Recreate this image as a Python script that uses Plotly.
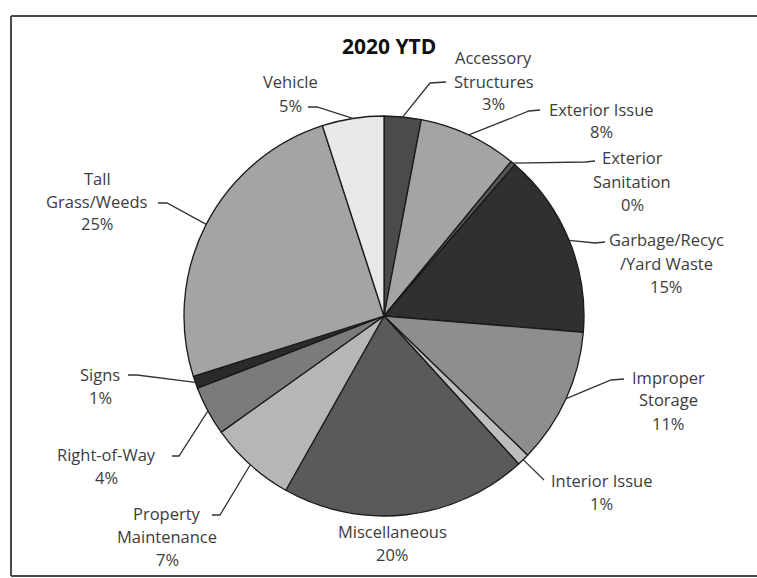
import numpy as np
import plotly.graph_objects as go

# ---------------- data ----------------
categories = ["Accessory Structures", "Exterior Issue", "Exterior Sanitation",
              "Garbage/Recyc /Yard Waste", "Improper Storage", "Interior Issue",
              "Miscellaneous", "Property Maintenance", "Right-of-Way", "Signs",
              "Tall Grass/Weeds", "Vehicle"]
label_lines = [["Accessory", "Structures"], ["Exterior Issue"], ["Exterior", "Sanitation"],
               ["Garbage/Recyc", "/Yard Waste"], ["Improper", "Storage"], ["Interior Issue"],
               ["Miscellaneous"], ["Property", "Maintenance"], ["Right-of-Way"], ["Signs"],
               ["Tall", "Grass/Weeds"], ["Vehicle"]]
values = [3, 8, 0.4, 15, 11, 1, 20, 7, 4, 1, 25, 5]
title_text = "2020 YTD"

# ---------------- styles / layout ----------------
colors = ["#4b4b4b", "#a4a4a4", "#555555", "#303030", "#8e8e8e", "#bdbdbd",
          "#5a5a5a", "#b6b6b6", "#7b7b7b", "#2a2a2a", "#a4a4a4", "#e8e8e8"]
W, H = 757, 578
CX, CY, R = 384, 316, 200
# first-line centre of each label (pixels)
label_pos = [(494, 58), (601, 109), (632, 158), (666, 240), (668, 377), (601, 480),
             (392, 531), (167, 513), (106, 454), (100, 374), (97, 178), (290, 82)]
# leader line: (elbow, end) in pixels; None = no leader
leaders = [((430, 83), (446, 82)), ((529, 111), (540, 110)), ((585, 162), (595, 161)),
           ((595, 243), (605, 242)), ((611, 380), (624, 379)), ((544, 480), (544, 480)),
           None, ((220, 515), (212, 515)), ((179, 456), (172, 456)), ((137, 375), (128, 375)),
           ((167, 203), (158, 203)), ((317, 107), (308, 107))]
LINE_H = 23
FONT = "Open Sans"
TXT = "#3c3c3c"


def px(x):
    return x / W


def py(y):
    return 1 - y / H


fig = go.Figure(go.Pie(
    labels=categories, values=values, sort=False, direction="clockwise", rotation=0,
    marker=dict(colors=colors, line=dict(color="#1a1a1a", width=1.3)),
    textinfo="none", hoverinfo="label+percent", showlegend=False,
    domain=dict(x=[px(CX - R), px(CX + R)], y=[py(CY + R), py(CY - R)]),
))

vals = np.array(values, dtype=float)
pct = vals / vals.sum() * 100
cum = np.cumsum(vals) - vals / 2
mid = cum / vals.sum() * 2 * np.pi

annotations = [dict(text="<b>" + title_text + "</b>", x=px(389), y=py(46), xref="paper", yref="paper",
                    showarrow=False, font=dict(family=FONT, size=21, color="#111111"),
                    xanchor="center", yanchor="middle")]
shapes = []
for i, cat in enumerate(categories):
    lines = label_lines[i] + [f"{pct[i]:.0f}%"]
    lx, ly = label_pos[i]
    for k, t in enumerate(lines):
        annotations.append(dict(text=t, x=px(lx), y=py(ly + k * LINE_H), xref="paper", yref="paper",
                                showarrow=False, font=dict(family=FONT, size=16.5, color=TXT),
                                xanchor="center", yanchor="middle"))
    if leaders[i] is not None:
        sx = CX + R * np.sin(mid[i])
        sy = CY - R * np.cos(mid[i])
        (ex, ey), (tx, ty) = leaders[i]
        path = f"M {px(sx)},{py(sy)} L {px(ex)},{py(ey)} L {px(tx)},{py(ty)}"
        shapes.append(dict(type="path", path=path, xref="paper", yref="paper",
                           line=dict(color="#333333", width=1.3)))

# outer frame
for x0, y0, x1, y1 in [(11, 16, 757, 16), (11, 16, 11, 576), (11, 576, 757, 576)]:
    shapes.append(dict(type="line", x0=px(x0), y0=py(y0), x1=px(x1), y1=py(y1),
                       xref="paper", yref="paper", line=dict(color="#4a4a4a", width=2)))

fig.update_layout(width=W, height=H, margin=dict(l=0, r=0, t=0, b=0),
                  paper_bgcolor="white", plot_bgcolor="white",
                  annotations=annotations, shapes=shapes)
fig.write_html("out.html")
